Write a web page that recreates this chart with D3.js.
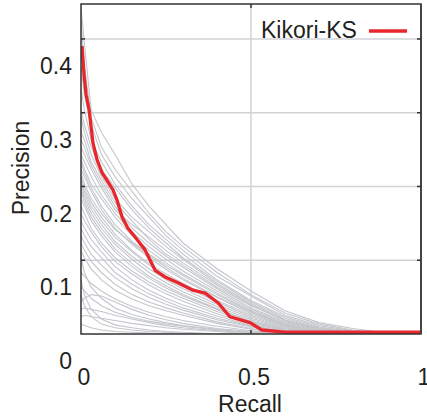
<!DOCTYPE html>
<html><head><meta charset="utf-8">
<script src="https://cdn.jsdelivr.net/npm/d3@7"></script>
<style>html,body{margin:0;padding:0;background:#fff;}svg{display:block;}text{font-family:"Liberation Sans",Arial,sans-serif;fill:#231f20;}</style>
</head><body>
<script>
// ---- data ----
const recallGrid = [0, 0.01, 0.03, 0.06, 0.1, 0.15, 0.2, 0.25, 0.3, 0.4, 0.5, 0.6, 0.7, 0.8, 0.9, 1];
const grayCurves = [
  [.48,.43,.34,.31,.28,.24,.21,.185,.16,.125,.095,.068,.052,.044,.038,.036],
  [.46,.40,.33,.29,.26,.23,.20,.175,.155,.12,.09,.065,.05,.042,.037,.036],
  [.40,.36,.32,.28,.25,.22,.195,.17,.15,.115,.088,.062,.048,.041,.037,.036],
  [.37,.34,.30,.27,.24,.21,.185,.165,.145,.11,.082,.06,.046,.04,.037,.036],
  [.34,.32,.29,.26,.235,.205,.18,.16,.14,.108,.08,.058,.045,.04,.037,.036],
  [.33,.31,.28,.25,.22,.195,.175,.155,.138,.105,.078,.056,.044,.039,.036,.036],
  [.31,.30,.27,.245,.215,.19,.165,.145,.13,.1,.075,.055,.044,.039,.036,.036],
  [.30,.29,.265,.24,.21,.18,.16,.142,.127,.098,.072,.053,.043,.038,.036,.036],
  [.29,.28,.26,.235,.205,.185,.168,.15,.133,.103,.076,.055,.043,.038,.036,.036],
  [.28,.27,.25,.225,.2,.175,.155,.138,.122,.095,.07,.052,.042,.038,.036,.036],
  [.275,.26,.24,.22,.195,.17,.15,.133,.118,.092,.068,.05,.041,.037,.036,.036],
  [.27,.255,.235,.21,.185,.162,.145,.13,.116,.09,.067,.05,.041,.037,.036,.036],
  [.26,.25,.23,.205,.18,.158,.14,.124,.11,.086,.064,.048,.04,.037,.036,.036],
  [.255,.24,.22,.2,.178,.16,.143,.127,.112,.087,.066,.049,.04,.037,.036,.036],
  [.25,.235,.215,.195,.172,.15,.132,.118,.105,.082,.062,.047,.04,.037,.036,.036],
  [.245,.23,.21,.19,.168,.148,.13,.115,.102,.08,.06,.046,.039,.037,.036,.036],
  [.24,.225,.205,.185,.162,.142,.125,.11,.098,.077,.058,.045,.039,.037,.036,.036],
  [.235,.22,.2,.18,.158,.138,.12,.106,.094,.074,.056,.044,.039,.037,.036,.036],
  [.23,.215,.195,.175,.152,.132,.115,.102,.09,.071,.054,.043,.038,.036,.036,.036],
  [.22,.21,.19,.17,.148,.128,.112,.099,.088,.07,.053,.043,.038,.036,.036,.036],
  [.21,.2,.18,.16,.14,.122,.107,.095,.085,.067,.052,.042,.038,.036,.036,.036],
  [.2,.19,.175,.155,.135,.118,.103,.091,.081,.064,.05,.041,.037,.036,.036,.036],
  [.19,.18,.165,.148,.128,.11,.096,.085,.076,.061,.048,.04,.037,.036,.036,.036],
  [.18,.17,.155,.14,.12,.104,.091,.081,.072,.058,.047,.04,.037,.036,.036,.036],
  [.17,.16,.145,.13,.113,.098,.086,.077,.069,.056,.046,.039,.037,.036,.036,.036],
  [.16,.15,.135,.12,.104,.09,.08,.072,.065,.053,.044,.038,.036,.036,.036,.036],
  [.15,.14,.125,.11,.096,.084,.075,.068,.062,.051,.043,.038,.036,.036,.036,.036],
  [.14,.12,.1,.085,.072,.063,.057,.052,.048,.043,.039,.037,.036,.036,.036,.036],
  [.12,.115,.105,.095,.084,.074,.066,.06,.055,.047,.041,.037,.036,.036,.036,.036],
  [.1,.095,.085,.075,.066,.059,.054,.05,.047,.042,.039,.037,.036,.036,.036,.036],
  [.08,.085,.09,.088,.08,.07,.062,.056,.051,.044,.04,.037,.036,.036,.036,.036],
  [.07,.072,.07,.067,.062,.057,.052,.048,.045,.041,.038,.036,.036,.036,.036,.036],
  [.06,.062,.06,.058,.055,.051,.048,.045,.043,.04,.037,.036,.036,.036,.036,.036],
  [.11,.09,.07,.057,.049,.045,.042,.04,.039,.037,.036,.036,.036,.036,.036,.036],
  [.05,.048,.045,.042,.04,.039,.038,.037,.037,.036,.036,.036,.036,.036,.036,.036],
  [.09,.075,.06,.05,.045,.042,.04,.039,.038,.037,.036,.036,.036,.036,.036,.036]
];
const redRecall = [0.003,0.009,0.015,0.024,0.035,0.047,0.062,0.079,0.094,0.106,0.121,0.138,0.159,0.188,0.203,0.218,0.247,0.285,0.329,0.365,0.403,0.438,0.497,0.532,0.6,1];
const redPrecision = [0.427,0.388,0.361,0.340,0.296,0.273,0.255,0.243,0.232,0.218,0.195,0.180,0.168,0.151,0.137,0.123,0.114,0.106,0.096,0.092,0.079,0.060,0.052,0.042,0.039,0.039];
const seriesName = "Kikori-KS";
const xTicks = [0, 0.5, 1];
const xTickLabels = ["0", "0.5", "1"];
const yTicks = [0, 0.1, 0.2, 0.3, 0.4];
const yTickLabels = ["0", "0.1", "0.2", "0.3", "0.4"];
const yMin = 0.0366, yMax = 0.484;
const gridY = [yMin + 0.1, yMin + 0.2, yMin + 0.3, yMin + 0.4];
const gridX = [0.5];

// ---- drawing ----
const W = 427, H = 420;
const L = 81, R = 421, T = 4, B = 334;
const svg = d3.select("body").append("svg").attr("width", W).attr("height", H);
const x = d3.scaleLinear().domain([0, 1]).range([L, R]);
const y = d3.scaleLinear().domain([yMin, yMax]).range([B, T]);

svg.append("clipPath").attr("id", "clip").append("rect")
  .attr("x", L).attr("y", T).attr("width", R - L).attr("height", B - T);

// grid
svg.append("g").selectAll("line").data(gridY).join("line")
  .attr("x1", L).attr("x2", R).attr("y1", d => y(d)).attr("y2", d => y(d))
  .attr("stroke", "#d2d3d7").attr("stroke-width", 1.5);
svg.append("g").selectAll("line").data(gridX).join("line")
  .attr("x1", d => x(d)).attr("x2", d => x(d)).attr("y1", T).attr("y2", B)
  .attr("stroke", "#d2d3d7").attr("stroke-width", 1.5);

const plot = svg.append("g").attr("clip-path", "url(#clip)");
const line = d3.line().x(d => x(d[0])).y(d => y(d[1]));
plot.append("g").selectAll("path").data(grayCurves).join("path")
  .attr("d", c => line(c.map((p, i) => [recallGrid[i], p])))
  .attr("fill", "none").attr("stroke", "#c3c6cb").attr("stroke-width", 1.1);
plot.append("path")
  .attr("d", line(redRecall.map((r, i) => [r, redPrecision[i]])))
  .attr("fill", "none").attr("stroke", "#e8262d").attr("stroke-width", 3.3)
  .attr("stroke-linejoin", "round");

// frame
svg.append("rect").attr("x", L).attr("y", T).attr("width", R - L).attr("height", B - T)
  .attr("fill", "none").attr("stroke", "#333").attr("stroke-width", 1.5);
svg.append("line").attr("x1", R).attr("x2", R).attr("y1", T).attr("y2", B)
  .attr("stroke", "#444").attr("stroke-width", 2);
// tick marks
const tk = svg.append("g").attr("stroke", "#333").attr("stroke-width", 1.5);
gridY.forEach(v => {
  tk.append("line").attr("x1", L).attr("x2", L + 4).attr("y1", y(v)).attr("y2", y(v));
  tk.append("line").attr("x1", R - 4).attr("x2", R).attr("y1", y(v)).attr("y2", y(v));
});
gridX.forEach(v => {
  tk.append("line").attr("x1", x(v)).attr("x2", x(v)).attr("y1", T).attr("y2", T + 4);
  tk.append("line").attr("x1", x(v)).attr("x2", x(v)).attr("y1", B - 4).attr("y2", B);
});

// tick labels (y labels use extended scale below the frame)
svg.append("g").selectAll("text").data(yTicks).join("text")
  .attr("x", 72).attr("y", d => y(d)).attr("dy", "0.35em")
  .attr("text-anchor", "end").attr("font-size", 23)
  .text((d, i) => yTickLabels[i]);
svg.append("g").selectAll("text").data(xTicks).join("text")
  .attr("x", d => x(d) + 3).attr("y", 377).attr("dy", "0.35em")
  .attr("text-anchor", "middle").attr("font-size", 23)
  .text((d, i) => xTickLabels[i]);

// axis titles
svg.append("text").attr("x", 250).attr("y", 412).attr("text-anchor", "middle")
  .attr("font-size", 23).text("Recall");
svg.append("text").attr("transform", "translate(29,168) rotate(-90)")
  .attr("text-anchor", "middle").attr("font-size", 23).text("Precision");

// legend
svg.append("text").attr("x", 261).attr("y", 38).attr("font-size", 23).text(seriesName);
svg.append("line").attr("x1", 369).attr("x2", 407).attr("y1", 31).attr("y2", 31)
  .attr("stroke", "#e8262d").attr("stroke-width", 3.5);
</script>
</body></html>
